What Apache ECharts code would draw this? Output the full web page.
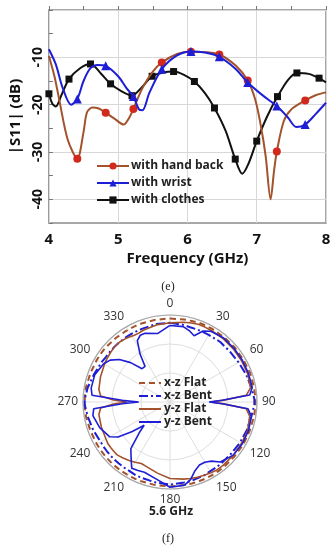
<!DOCTYPE html>
<html>
<head>
<meta charset="utf-8">
<script src="https://cdn.jsdelivr.net/npm/echarts@6/dist/echarts.min.js"></script>
<style>
html,body{margin:0;padding:0;background:#fff;}
#c{width:336px;height:550px;}
</style>
</head>
<body>
<div id="c"></div>
<script>
// ---------- (e) |S11| vs frequency ----------
const freqTicks = [4, 5, 6, 7, 8];
const s11Ticks = [-10, -20, -30, -40];

// smooth-curve points [GHz, dB]
const handCurve = [[4.0,-9.7],[4.08,-14],[4.15,-19],[4.27,-27.3],[4.5,-25.8],[4.55,-21.6],[4.63,-20.6],[4.72,-20.8],[4.95,-23],[5.08,-24.2],[5.15,-23],[5.35,-16.5],[5.5,-13],[5.85,-9.3],[6.25,-8.9],[6.7,-11.8],[6.98,-19],[7.06,-24.5],[7.13,-31],[7.2,-40],[7.25,-34],[7.39,-23.5],[7.5,-21],[7.85,-18],[8.0,-17.4]];
const handMarks = [[4.41,-31.4],[4.82,-21.7],[5.22,-20.9],[5.63,-11.1],[6.05,-8.8],[6.46,-9.4],[6.87,-14.9],[7.29,-29.9],[7.7,-19.1]];

const wristCurve = [[4.0,-8.3],[4.1,-11.5],[4.2,-16.5],[4.32,-20],[4.5,-15],[4.6,-12.3],[4.7,-11.6],[5.0,-14],[5.12,-16.5],[5.3,-21],[5.35,-21.2],[5.45,-17.5],[5.85,-9.6],[6.25,-9],[6.7,-12.5],[7.1,-18.2],[7.45,-22.7],[7.57,-24.7],[7.85,-22],[8.0,-19.6]];
const wristMarks = [[4.41,-18.8],[4.82,-11.8],[5.22,-18.3],[5.63,-12.5],[6.05,-8.75],[6.46,-9.9],[6.87,-15.3],[7.29,-20.3],[7.7,-24.2]];

const clothesCurve = [[4.05,-19.8],[4.1,-20.4],[4.18,-18],[4.45,-12.3],[4.75,-13.4],[5.05,-17.2],[5.33,-16.5],[5.65,-13.2],[5.95,-13.7],[6.25,-17.5],[6.55,-25.5],[6.79,-34.6],[6.88,-32.5],[7.15,-22.5],[7.45,-14.8],[7.75,-13.5],[8.0,-15.3]];
const clothesMarks = [[4.0,-17.7],[4.29,-14.6],[4.6,-11.4],[4.89,-15.6],[5.2,-18.1],[5.49,-14],[5.8,-13],[6.1,-15.1],[6.39,-20.7],[6.69,-31.5],[7.0,-27.7],[7.3,-18.3],[7.58,-13.3],[7.9,-14.4]];

const s11Names = ['with hand back', 'with wrist', 'with clothes'];

// ---------- (f) radiation pattern, 5.6 GHz ----------
const patAngles = [0,10,15,20,25,30,40,50,60,70,80,85,88,90,92,95,100,110,120,130,140,145,150,155,160,165,170,180,190,200,205,210,215,220,225,228,232,236,240,250,260,265,268,270,272,275,280,290,300,305,310,315,320,325,328,332,336,340,350,360];
const xzFlat = [-1.2,-1.1,-1.1,-0.9,-0.9,-0.9,-0.9,-0.8,-0.8,-0.6,-0.6,-0.6,-0.6,-0.6,-0.6,-0.6,-0.6,-0.8,-0.8,-0.9,-0.9,-0.9,-0.9,-0.9,-0.9,-0.9,-0.9,-0.9,-0.9,-0.9,-0.9,-0.9,-0.9,-0.9,-0.9,-0.9,-0.9,-0.9,-0.9,-0.8,-0.6,-0.6,-0.6,-0.6,-0.6,-0.6,-0.6,-0.8,-0.9,-0.9,-0.9,-1.1,-1.1,-1.2,-1.2,-1.2,-1.2,-1.2,-1.2,-1.2];
const xzBent = [-2.7,-3.0,-3.3,-3.3,-3.3,-3.3,-3.0,-3.0,-2.7,-2.1,-1.5,-1.2,-0.9,-0.9,-0.9,-1.2,-1.5,-1.8,-2.1,-2.4,-2.4,-2.4,-2.4,-2.1,-2.1,-1.8,-1.8,-1.5,-1.8,-2.1,-2.1,-2.4,-2.4,-2.4,-2.4,-2.4,-2.4,-2.4,-2.4,-1.8,-1.2,-0.9,-0.6,-0.6,-0.6,-0.9,-1.2,-2.1,-2.7,-3.0,-3.0,-3.0,-3.0,-3.0,-3.0,-3.0,-3.0,-3.0,-2.7,-2.7];
const yzFlat = [-2.7,-2.1,-1.8,-1.5,-1.5,-1.5,-1.5,-1.5,-1.5,-1.5,-1.8,-3.6,-11.4,-15.9,-11.4,-3.6,-2.1,-1.5,-1.5,-1.5,-1.5,-1.5,-1.8,-2.1,-2.4,-2.7,-3.0,-3.6,-5.1,-6.3,-6.6,-6.0,-5.4,-4.8,-4.2,-4.2,-4.2,-4.2,-4.5,-4.8,-5.1,-6.0,-10.5,-15.0,-10.5,-6.0,-5.1,-4.5,-3.9,-3.6,-3.3,-3.0,-3.0,-3.3,-3.6,-3.9,-3.9,-3.6,-3.0,-2.7];
const yzBent = [-3.6,-3.6,-4.5,-5.7,-3.0,-1.8,-1.2,-1.2,-1.2,-1.2,-1.2,-2.4,-12.0,-16.5,-12.0,-3.0,-1.5,-1.2,-1.2,-1.5,-3.0,-5.1,-6.0,-6.0,-4.8,-2.4,-0.9,-0.6,-3.0,-4.2,-3.9,-3.6,-6.6,-9.0,-15.0,-18.0,-13.5,-8.4,-6.0,-4.2,-3.0,-3.6,-13.5,-19.2,-13.5,-3.0,-2.4,-2.4,-3.6,-4.8,-7.2,-10.8,-15.0,-15.0,-10.5,-6.0,-4.8,-4.8,-6.0,-3.6];
const patNames = ['x-z Flat', 'x-z Bent', 'y-z Flat', 'y-z Bent'];

// ---------- build ----------
const FONT = 'Open Sans';
function mergePts(curve, marks) {
  const all = curve.map(p => ({ value: p, symbol: 'none' }))
    .concat(marks.map(p => ({ value: p })));
  all.sort((a, b) => a.value[0] - b.value[0]);
  return all;
}
function polarData(vals) { return vals.map((v, i) => [v, patAngles[i]]); }

const BROWN = '#a3522c', RED = '#d12a1c', BLUE = '#1e1ed6', BLACK = '#111';

const chart = echarts.init(document.getElementById('c'), null, { renderer: 'canvas' });
chart.setOption({
  animation: false,
  backgroundColor: '#fff',
  textStyle: { fontFamily: FONT },
  grid: { left: 46, top: 10, width: 280, height: 213, show: true, borderColor: '#8a8a8a', borderWidth: 1.5 },
  xAxis: {
    type: 'value', min: 4, max: 8, interval: 0.5,
    name: 'Frequency (GHz)', nameLocation: 'middle', nameGap: 28,
    nameTextStyle: { fontFamily: FONT, fontWeight: 'bold', fontSize: 15, color: '#111' },
    axisLine: { show: false },
    axisTick: { show: true, inside: true, length: 4, lineStyle: { color: '#777' } },
    axisLabel: { margin: 9, fontFamily: FONT, fontWeight: 'bold', fontSize: 15, color: '#111',
      formatter: v => freqTicks.indexOf(v) >= 0 ? String(v) : '' },
    splitLine: { show: true, lineStyle: { color: ['#d8d8d8', 'rgba(0,0,0,0)'], width: 1 } }
  },
  yAxis: {
    type: 'value', min: -45, max: 0, interval: 5,
    name: '|S11| (dB)', nameLocation: 'middle', nameGap: 23, nameRotate: 90,
    nameTextStyle: { fontFamily: FONT, fontWeight: 'bold', fontSize: 15, color: '#111' },
    axisLine: { show: false },
    axisTick: { show: true, inside: true, length: 4, lineStyle: { color: '#777' } },
    axisLabel: { rotate: 90, margin: 4, fontFamily: FONT, fontWeight: 'bold', fontSize: 14, color: '#111',
      formatter: v => s11Ticks.indexOf(v) >= 0 ? String(v) : '' },
    splitLine: { show: true, lineStyle: { color: ['rgba(0,0,0,0)', '#d8d8d8'], width: 1 } }
  },
  polar: { center: [170, 402], radius: 87 },
  angleAxis: {
    type: 'value', min: 0, max: 360, interval: 30, startAngle: 90, clockwise: true,
    axisLine: { show: true, lineStyle: { color: '#a8a8a8', width: 1.2 } },
    axisTick: { show: false },
    axisLabel: { margin: 5, fontFamily: FONT, fontSize: 12, color: '#333' },
    splitLine: { show: true, lineStyle: { color: '#dedede', width: 1 } }
  },
  radiusAxis: {
    type: 'value', min: -30, max: 0, interval: 10,
    axisLine: { show: false }, axisTick: { show: false }, axisLabel: { show: false },
    splitLine: { show: true, lineStyle: { color: '#dedede', width: 1 } }
  },
  legend: [
    {
      orient: 'vertical', left: 91, top: 155, itemWidth: 32, itemHeight: 9, itemGap: 5,
      textStyle: { fontFamily: FONT, fontWeight: 'bold', fontSize: 12, color: '#222', padding: [0, 0, 0, -3] },
      data: s11Names
    },
    {
      orient: 'vertical', left: 133, top: 372, itemWidth: 22, itemHeight: 7, itemGap: 1,
      itemStyle: { opacity: 0 },
      textStyle: { fontFamily: FONT, fontWeight: 'bold', fontSize: 12, lineHeight: 11, color: '#222', padding: [0, 0, 0, -2] },
      data: patNames
    }
  ],
  series: [
    { name: s11Names[0], type: 'line', smooth: 0.3, data: mergePts(handCurve, handMarks),
      symbol: 'circle', symbolSize: 8, itemStyle: { color: RED }, lineStyle: { color: BROWN, width: 2 }, z: 3 },
    { name: s11Names[1], type: 'line', smooth: 0.3, data: mergePts(wristCurve, wristMarks),
      symbol: 'triangle', symbolSize: 9, itemStyle: { color: BLUE }, lineStyle: { color: BLUE, width: 2 }, z: 4 },
    { name: s11Names[2], type: 'line', smooth: 0.3, data: mergePts(clothesCurve, clothesMarks),
      symbol: 'rect', symbolSize: 7, itemStyle: { color: BLACK }, lineStyle: { color: BLACK, width: 2 }, z: 2 },

    { name: patNames[0], type: 'line', coordinateSystem: 'polar', data: polarData(xzFlat), symbol: 'none',
      itemStyle: { color: BROWN }, lineStyle: { color: BROWN, width: 2, type: [6, 4] } },
    { name: patNames[1], type: 'line', coordinateSystem: 'polar', data: polarData(xzBent), symbol: 'none',
      itemStyle: { color: BLUE }, lineStyle: { color: BLUE, width: 2, type: [9, 3, 2, 3] } },
    { name: patNames[2], type: 'line', coordinateSystem: 'polar', data: polarData(yzFlat), symbol: 'none',
      itemStyle: { color: BROWN }, lineStyle: { color: BROWN, width: 1.6 } },
    { name: patNames[3], type: 'line', coordinateSystem: 'polar', data: polarData(yzBent), symbol: 'none',
      itemStyle: { color: BLUE }, lineStyle: { color: BLUE, width: 1.6 } }
  ],
  graphic: [
    { type: 'text', left: 'center', top: 281, style: { text: '(e)', font: '12px "Liberation Serif"', fill: '#222' } },
    { type: 'text', left: 149, top: 506, style: { text: '5.6 GHz', font: 'bold 12px "Open Sans"', fill: '#222' } },
    { type: 'text', left: 'center', top: 533, style: { text: '(f)', font: '12px "Liberation Serif"', fill: '#222' } }
  ]
});
</script>
</body>
</html>
